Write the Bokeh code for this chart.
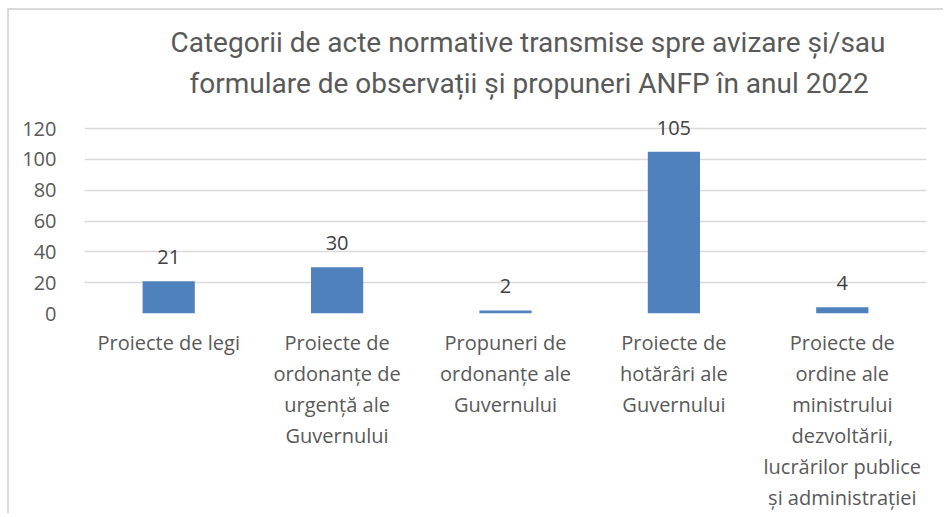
from bokeh.plotting import figure
from bokeh.models import FactorRange, Range1d, FixedTicker, Title, ColumnDataSource
from bokeh.core.properties import value
from bokeh.embed import file_html
from bokeh.resources import INLINE

title_lines = [
    "Categorii de acte normative transmise spre avizare și/sau",
    "formulare  de observații și propuneri ANFP în anul 2022",
]
categories = [
    "Proiecte de legi",
    "Proiecte de\nordonanțe de\nurgență ale\nGuvernului",
    "Propuneri de\nordonanțe ale\nGuvernului",
    "Proiecte de\nhotărâri ale\nGuvernului",
    "Proiecte de\nordine ale\nministrului\ndezvoltării,\nlucrărilor publice\nși administrației",
]
values = [21, 30, 2, 105, 4]
y_ticks = [0, 20, 40, 60, 80, 100, 120]

FONT = "Open Sans"
TFONT = "Roboto"
TXT = "#595959"

p = figure(
    x_range=FactorRange(*categories, range_padding=0),
    y_range=Range1d(0, 135),
    frame_width=842, frame_height=208,
    min_border_left=75, min_border_right=17, min_border_top=95, min_border_bottom=195,
    output_backend="svg", toolbar_location=None,
    styles={"margin-left": "7px", "margin-top": "8px",
            "border-left": "2px solid #d9d9d9", "border-top": "2px solid #d9d9d9"},
)
p.x_range.factor_padding = 0
p.background_fill_color = "white"
p.border_fill_color = "white"
p.outline_line_color = None

src = ColumnDataSource(dict(cat=categories, val=values, lbl=[str(v) for v in values]))
p.vbar(x="cat", top="val", width=0.31, source=src, fill_color="#4f81bd", line_color=None)
p.text(x="cat", y="val", text="lbl", source=src, text_align="center", text_baseline="middle",
       y_offset=-24, text_font=value(FONT), text_font_size="20px", text_color="#404040")

p.xgrid.grid_line_color = None
p.ygrid.grid_line_color = "#d9d9d9"
p.ygrid.grid_line_width = 1.5
p.yaxis.ticker = FixedTicker(ticks=y_ticks)

for ax in (p.xaxis[0], p.yaxis[0]):
    ax.axis_line_color = None
    ax.major_tick_line_color = None
    ax.minor_tick_line_color = None
    ax.major_label_text_font = FONT
    ax.major_label_text_font_size = "20px"
    ax.major_label_text_color = TXT
p.yaxis.major_label_standoff = 22
p.xaxis.major_label_standoff = 9
p.xaxis.major_label_text_line_height = 1.15
p.xaxis.group_text_font_size = "0px"

# second line first (closest to the frame), then first line above it
p.add_layout(Title(text=title_lines[1], align="left", offset=105, standoff=12,
                   text_font=TFONT, text_font_size="28px", text_font_style="normal",
                   text_line_height=0.9, text_color=TXT), "above")
p.add_layout(Title(text=title_lines[0], align="left", offset=86, standoff=0,
                   text_font=TFONT, text_font_size="28px", text_font_style="normal",
                   text_line_height=1.0, text_color=TXT), "above")

open("out.html", "w").write(file_html(p, INLINE))
